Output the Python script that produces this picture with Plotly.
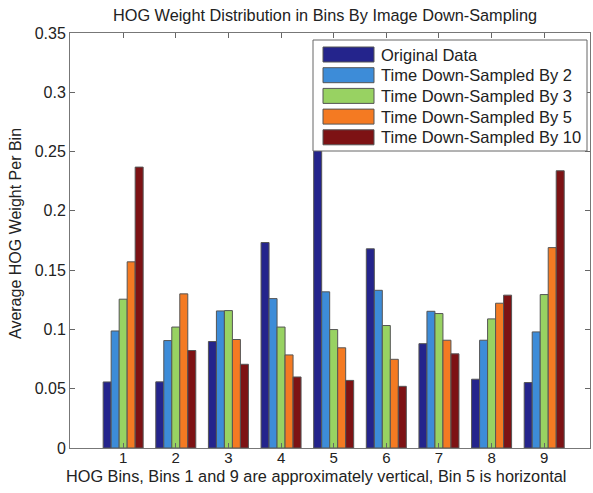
import plotly.graph_objects as go

bins = [1, 2, 3, 4, 5, 6, 7, 8, 9]
series_names = ["Original Data", "Time Down-Sampled By 2", "Time Down-Sampled By 3",
                "Time Down-Sampled By 5", "Time Down-Sampled By 10"]
original = [0.0557, 0.0558, 0.0898, 0.1733, 0.257, 0.168, 0.088, 0.058, 0.0552]
ds2 = [0.0987, 0.0906, 0.1156, 0.126, 0.1317, 0.133, 0.1153, 0.0909, 0.0979]
ds3 = [0.1255, 0.102, 0.1159, 0.102, 0.0999, 0.1033, 0.1134, 0.1089, 0.1294]
ds5 = [0.157, 0.130, 0.0915, 0.0785, 0.0845, 0.0748, 0.0909, 0.1221, 0.169]
ds10 = [0.2369, 0.0822, 0.0706, 0.0599, 0.057, 0.052, 0.0794, 0.1289, 0.2338]
series_values = [original, ds2, ds3, ds5, ds10]
colors = ["#24248c", "#3d8cd8", "#98d262", "#f47a22", "#7d1214"]
y_ticks = [0, 0.05, 0.1, 0.15, 0.2, 0.25, 0.3, 0.35]
y_tick_text = ["0", "0.05", "0.1", "0.15", "0.2", "0.25", "0.3", "0.35"]
title_text = "HOG Weight Distribution in Bins By Image Down-Sampling"
x_title = "HOG Bins, Bins 1 and 9 are approximately vertical, Bin 5 is horizontal"
y_title = "Average HOG Weight Per Bin"

W, H = 593, 493
L, R, T, B = 70, 3, 33, 45
pw, ph = W - L - R, H - T - B

def px(x):
    return (x - L) / pw

def py(y):
    return (H - B - y) / ph

font = "Liberation Sans, Arial, sans-serif"
txt = "#222222"
fig = go.Figure()
for name, vals, col in zip(series_names, series_values, colors):
    fig.add_trace(go.Bar(x=bins, y=vals, name=name, marker_color=col,
                         marker_line=dict(color="#555555", width=1), showlegend=False))

shapes = []
annotations = []
# custom MATLAB-style legend
shapes.append(dict(type="rect", xref="paper", yref="paper", x0=px(313), x1=px(587),
                   y0=py(151), y1=py(40), fillcolor="white", line=dict(color="#666666", width=1),
                   layer="above"))
for i, (name, col) in enumerate(zip(series_names, colors)):
    top = 47 + i * 20.7
    shapes.append(dict(type="rect", xref="paper", yref="paper", x0=px(323), x1=px(374),
                       y0=py(top + 15), y1=py(top), fillcolor=col,
                       line=dict(color="#555555", width=1), layer="above"))
    annotations.append(dict(text=name, xref="paper", yref="paper", x=px(379), y=py(top + 7.5),
                            xanchor="left", yanchor="middle", showarrow=False,
                            font=dict(family=font, size=16.5, color=txt)))

annotations.append(dict(text=title_text, xref="paper", yref="paper", x=px(325), y=py(15),
                        xanchor="center", yanchor="middle", showarrow=False,
                        font=dict(family=font, size=16.3, color=txt)))
annotations.append(dict(text=x_title, xref="paper", yref="paper", x=px(316), y=py(476),
                        xanchor="center", yanchor="middle", showarrow=False,
                        font=dict(family=font, size=16.3, color=txt)))
annotations.append(dict(text=y_title, xref="paper", yref="paper", x=px(16), y=py(234),
                        xanchor="center", yanchor="middle", showarrow=False, textangle=-90,
                        font=dict(family=font, size=16, color=txt)))

fig.update_layout(
    width=W, height=H,
    margin=dict(l=L, r=R, t=T, b=B),
    paper_bgcolor="white", plot_bgcolor="white",
    barmode="group", bargap=0.24, bargroupgap=0,
    font=dict(family=font, size=16, color=txt),
    shapes=shapes, annotations=annotations,
)
fig.update_xaxes(range=[-0.01, 9.87], tickmode="array", tickvals=bins,
                 ticktext=[str(b) for b in bins], ticks="inside", ticklen=5,
                 tickcolor="#666666", showline=True, linecolor="#777777", linewidth=1,
                 mirror="allticks", showgrid=False, zeroline=False,
                 tickfont=dict(size=15), ticklabelstandoff=-4)
fig.update_yaxes(range=[0, 0.35], tickmode="array", tickvals=y_ticks,
                 ticktext=y_tick_text,
                 ticks="inside", ticklen=5, tickcolor="#666666", showline=True,
                 linecolor="#777777", linewidth=1, mirror="allticks", showgrid=False,
                 zeroline=False)

fig.write_html("out.html")
